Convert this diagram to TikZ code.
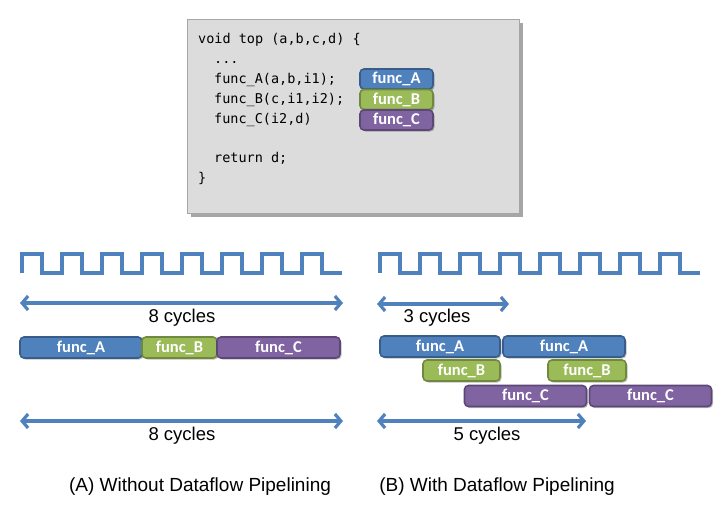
\documentclass[tikz,border=0pt]{standalone}
\usepackage{fontspec}
\setmainfont{Liberation Sans}
\newfontfamily\boxfont{Carlito}
\newfontfamily\codefont{DejaVu Sans Mono}
\usetikzlibrary{arrows.meta,shadows}
\definecolor{fblue}{HTML}{4F81BD}
\definecolor{fbluedk}{HTML}{385D8A}
\definecolor{fgreen}{HTML}{9BBB59}
\definecolor{fgreendk}{HTML}{71893F}
\definecolor{fpurple}{HTML}{8064A2}
\definecolor{fpurpledk}{HTML}{5C4776}
\definecolor{codebg}{HTML}{DCDCDC}
\definecolor{codeborder}{HTML}{A6A6A6}
\tikzset{
  fbox/.style={draw, line width=1.6pt, rounded corners=4pt, text=white,
    font=\boxfont\bfseries\fontsize{16.5}{16.5}\selectfont, inner sep=0pt,
    minimum height=21pt, anchor=center,
    drop shadow={shadow xshift=1.5pt, shadow yshift=-1.5pt, opacity=0.25, fill=black}},
  fA/.style={fbox, fill=fblue, draw=fbluedk},
  fB/.style={fbox, fill=fgreen, draw=fgreendk},
  fC/.style={fbox, fill=fpurple, draw=fpurpledk},
  clockline/.style={draw=fblue, line width=4pt, line join=miter},
  dimarrow/.style={draw=fblue, line width=3.6pt,
    {Straight Barb[length=6pt,width=14pt,line width=3.2pt]}-{Straight Barb[length=6pt,width=14pt,line width=3.2pt]}},
  lbl/.style={font=\fontsize{18.5}{18.5}\selectfont, inner sep=0pt},
  caption/.style={font=\fontsize{19}{19}\selectfont, inner sep=0pt},
  codeline/.style={font=\codefont\fontsize{13.5}{13.5}\selectfont, anchor=base west, inner sep=0pt},
}
\begin{document}
\begin{tikzpicture}[x=1pt,y=-1pt]
\useasboundingbox (0,0) rectangle (722,509);
% code box
\node[draw=codeborder, fill=codebg, line width=1pt, minimum width=332pt, minimum height=194pt,
  inner sep=0pt, anchor=north west,
  drop shadow={shadow xshift=3pt, shadow yshift=-3pt, opacity=0.35, fill=black}] (code) at (187,19) {};
\node[codeline] (l1) at (198,43) {void top (a,b,c,d) \{};
\node[codeline] (l2) at (214,63) {...};
\node[codeline] (l3) at (214,83) {func\_A(a,b,i1);};
\node[codeline] (l4) at (214,103) {func\_B(c,i1,i2);};
\node[codeline] (l5) at (214,123) {func\_C(i2,d)};
\node[codeline] (l6) at (214,162) {return d;};
\node[codeline] (l7) at (198,182) {\}};
\node[fA, minimum width=73pt, minimum height=20pt] (cA) at (396.5,79) {func\_A};
\node[fB, minimum width=73pt, minimum height=20pt] (cB) at (396.5,99.5) {func\_B};
\node[fC, minimum width=73pt, minimum height=20pt] (cC) at (396.5,120) {func\_C};
% clocks
\draw[clockline] (22,273) foreach \i in {0,...,7} { -- ++(0,-19) -- ++(20,0) -- ++(0,19) -- ++(20,0) };
\draw[clockline] (380,273) foreach \i in {0,...,7} { -- ++(0,-19) -- ++(20,0) -- ++(0,19) -- ++(20,0) };
% left side
\coordinate (a1l) at (20,303);
\coordinate (a1r) at (343,303);
\draw[dimarrow] (a1l) -- (a1r);
\node[lbl] (t1) at (182,318) {8 cycles};
\node[fA, minimum width=122pt] (LA) at (81,347.5) {func\_A};
\node[fB, minimum width=75pt] (LB) at (179.5,347.5) {func\_B};
\node[fC, minimum width=123pt] (LC) at (278.5,347.5) {func\_C};
\coordinate (a2l) at (20,421);
\coordinate (a2r) at (343,421);
\draw[dimarrow] (a2l) -- (a2r);
\node[lbl] (t2) at (182,436) {8 cycles};
\node[caption] (capA) at (200,487) {(A) Without Dataflow Pipelining};
% right side
\coordinate (b1l) at (377,304);
\coordinate (b1r) at (509,304);
\draw[dimarrow] (b1l) -- (b1r);
\node[lbl] (t3) at (437,318) {3 cycles};
\node[fA, minimum width=120pt] (RA1) at (440,346.5) {func\_A};
\node[fA, minimum width=122pt] (RA2) at (564,346.5) {func\_A};
\node[fB, minimum width=77pt] (RB1) at (461.5,370.5) {func\_B};
\node[fB, minimum width=78pt] (RB2) at (587,370.5) {func\_B};
\node[fC, minimum width=122pt] (RC1) at (525.5,396) {func\_C};
\node[fC, minimum width=122pt] (RC2) at (650.5,396) {func\_C};
\coordinate (b2l) at (377,421);
\coordinate (b2r) at (586,421);
\draw[dimarrow] (b2l) -- (b2r);
\node[lbl] (t4) at (487,436) {5 cycles};
\node[caption] (capB) at (497,487) {(B) With Dataflow Pipelining};
\end{tikzpicture}
\end{document}
